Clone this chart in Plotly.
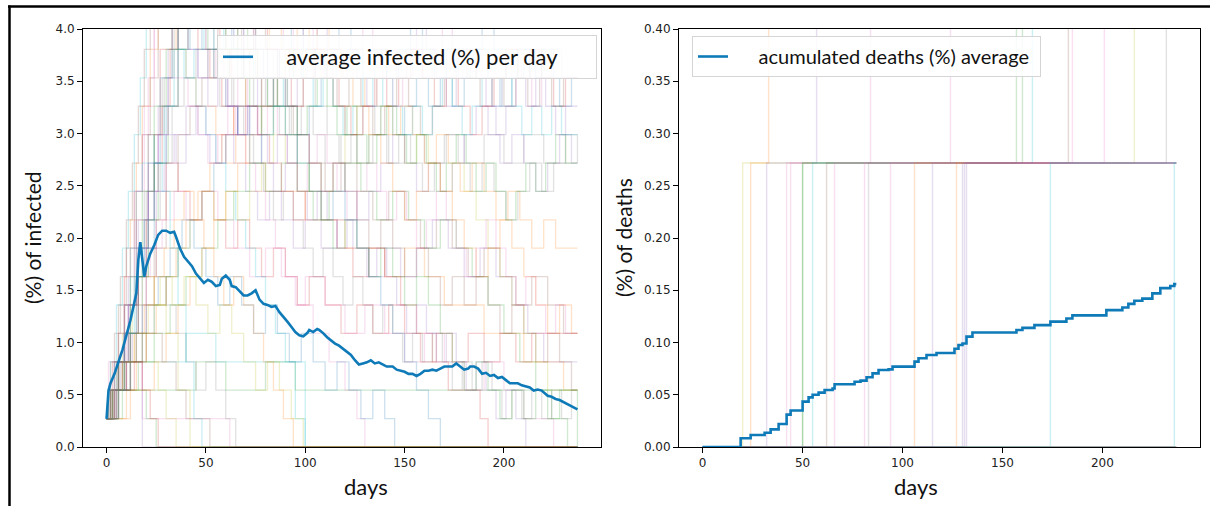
import plotly.graph_objects as go

# ---------------- data ----------------
POP = 368  # simulated population: 1 person = 0.2717 %

# average infected (%) per day
avg_inf_days = [0, 1, 2, 4, 8, 12, 15, 16, 17, 19,
                20, 22, 24, 26, 28, 30, 32, 34, 35, 37,
                39, 41, 43, 45, 47, 49, 51, 53, 55, 57,
                58, 60, 62, 63, 65, 67, 69, 71, 73, 75,
                77, 79, 81, 83, 85, 87, 89, 91, 93, 95,
                97, 99, 101, 102, 104, 106, 107, 109, 111, 113,
                115, 117, 119, 121, 123, 125, 127, 129, 131, 133,
                135, 137, 139, 141, 142, 144, 146, 148, 150, 152,
                154, 156, 158, 160, 162, 164, 166, 168, 170, 172,
                174, 176, 178, 180, 182, 183, 185, 187, 189, 191,
                193, 195, 197, 199, 201, 203, 205, 207, 209, 211,
                213, 215, 217, 219, 221, 222, 224, 226, 228, 230,
                232, 234, 236, 237]
avg_inf_vals = [0.27, 0.54, 0.61, 0.70, 0.93, 1.21, 1.47, 1.79, 1.96, 1.63,
                1.73, 1.85, 1.93, 2.03, 2.07, 2.07, 2.05, 2.06, 2.01, 1.90,
                1.82, 1.77, 1.73, 1.66, 1.61, 1.57, 1.60, 1.58, 1.54, 1.55,
                1.61, 1.64, 1.60, 1.54, 1.53, 1.49, 1.45, 1.45, 1.47, 1.50,
                1.41, 1.37, 1.36, 1.34, 1.35, 1.29, 1.25, 1.20, 1.15, 1.10,
                1.07, 1.06, 1.09, 1.12, 1.10, 1.13, 1.12, 1.09, 1.05, 1.02,
                0.99, 0.97, 0.94, 0.91, 0.88, 0.83, 0.79, 0.80, 0.81, 0.83,
                0.80, 0.81, 0.79, 0.77, 0.77, 0.77, 0.74, 0.73, 0.72, 0.70,
                0.70, 0.68, 0.70, 0.73, 0.73, 0.74, 0.73, 0.75, 0.77, 0.77,
                0.77, 0.80, 0.77, 0.74, 0.75, 0.77, 0.77, 0.75, 0.70, 0.71,
                0.68, 0.69, 0.66, 0.67, 0.64, 0.61, 0.61, 0.61, 0.59, 0.58,
                0.57, 0.54, 0.55, 0.54, 0.51, 0.49, 0.48, 0.46, 0.45, 0.43,
                0.41, 0.39, 0.37, 0.36]

# accumulated deaths (%) average (step changes)
avg_death_days = [0, 19, 24, 31, 34, 38, 42, 44, 50, 53,
                  55, 58, 61, 65, 66, 76, 79, 82, 85, 88,
                  93, 95, 106, 108, 112, 117, 126, 128, 130, 132,
                  135, 157, 160, 166, 174, 182, 185, 202, 210, 213,
                  216, 220, 225, 229, 234, 236, 237]
avg_death_vals = [0, 0.0084, 0.0115, 0.0137, 0.0169, 0.022, 0.031, 0.035, 0.0434, 0.0475,
                  0.050, 0.052, 0.0545, 0.056, 0.060, 0.0625, 0.0635, 0.0667, 0.0705, 0.0737,
                  0.0743, 0.0769, 0.0817, 0.085, 0.088, 0.090, 0.094, 0.0976, 0.099, 0.1056,
                  0.1096, 0.112, 0.114, 0.1166, 0.120, 0.123, 0.126, 0.131, 0.1335, 0.137,
                  0.140, 0.142, 0.147, 0.152, 0.154, 0.156, 0.156]

# day grids at which some runs change
grid_a = [0, 6, 12, 18, 24, 30, 36, 42, 48, 54, 60, 66, 72, 78, 84, 90, 96, 102, 108, 114,
          120, 126, 132, 138, 144, 150, 156, 162, 168, 174, 180, 186, 192, 198, 204, 210,
          216, 222, 228, 234, 237]
grid_c = [0, 3, 9, 15, 21, 27, 33, 39, 45, 51, 57, 63, 69, 75, 81, 87, 93, 99, 105, 111,
          117, 123, 129, 135, 141, 147, 153, 159, 165, 171, 177, 183, 189, 195, 201, 207,
          213, 219, 225, 231, 237]
grid_f = [0, 1, 6, 11, 16, 21, 26, 31, 36, 41, 46, 51, 56, 61, 66, 71, 76, 81, 86, 91,
          96, 101, 106, 111, 116, 121, 126, 131, 136, 141, 146, 151, 156, 161, 166, 171,
          176, 181, 186, 191, 196, 201, 206, 211, 216, 221, 226, 231, 236, 237]
grid_g = [0, 4, 9, 14, 19, 24, 29, 34, 39, 44, 49, 54, 59, 64, 69, 74, 79, 84, 89, 94,
          99, 104, 109, 114, 119, 124, 129, 134, 139, 144, 149, 154, 159, 164, 169, 174,
          179, 184, 189, 194, 199, 204, 209, 214, 219, 224, 229, 234, 237]

# individual simulation runs: infected persons (step changes)
run_days = [
    [0, 1, 18, 62, 237],
    [0, 2, 5, 9, 13, 18, 237],
    [0, 1, 30, 45, 60, 80, 95, 237],
    [0, 4, 12, 40, 55, 70, 95, 100, 237],
    [0, 3, 6, 9, 12, 15, 18, 22, 26, 30, 35, 40, 45, 50, 55, 60, 65, 70, 80, 90, 100, 110, 120, 130, 140, 150, 160, 170, 180, 190, 200, 210, 220, 230, 237],
    [0, 4, 8, 12, 16, 20, 24, 28, 33, 38, 44, 50, 56, 62, 68, 74, 80, 86, 92, 98, 104, 110, 118, 126, 134, 142, 150, 160, 170, 180, 190, 200, 210, 220, 230, 237],
    [0, 5, 10, 15, 20, 25, 30, 36, 42, 48, 54, 60, 66, 72, 78, 84, 90, 96, 102, 110, 118, 126, 134, 142, 150, 158, 166, 174, 182, 190, 198, 206, 214, 222, 230, 237],
    [0, 3, 8, 14, 20, 26, 30, 35, 237],
    [0, 2, 6, 10, 14, 18, 22, 26, 32, 38, 44, 50, 56, 62, 70, 78, 86, 94, 102, 110, 118, 126, 134, 142, 150, 158, 166, 174, 182, 190, 198, 206, 214, 222, 230, 237],
    grid_a,
    [0, 4, 10, 16, 22, 28, 34, 40, 48, 56, 64, 72, 80, 88, 96, 104, 112, 120, 126, 130, 237],
    [0, 3, 7, 11, 15, 19, 24, 29, 34, 40, 46, 52, 58, 64, 70, 76, 82, 88, 94, 100, 108, 116, 124, 132, 140, 148, 156, 164, 172, 180, 188, 196, 204, 212, 220, 228, 237],
    [0, 8, 16, 24, 32, 40, 48, 56, 64, 72, 80, 88, 96, 104, 112, 120, 128, 136, 144, 152, 160, 168, 176, 184, 192, 200, 208, 216, 224, 232, 237],
    [0, 2, 5, 8, 11, 14, 17, 20, 24, 28, 32, 36, 40, 45, 50, 55, 60, 65, 70, 75, 80, 85, 90, 95, 100, 237],
    [0, 5, 10, 15, 20, 25, 30, 35, 40, 46, 52, 58, 64, 70, 76, 82, 88, 94, 100, 106, 112, 118, 124, 130, 136, 142, 148, 154, 160, 166, 172, 178, 184, 190, 196, 202, 208, 214, 220, 226, 232, 237],
    [0, 3, 6, 9, 12, 16, 20, 25, 30, 35, 40, 45, 50, 55, 60, 65, 237],
    [0, 4, 8, 12, 16, 20, 24, 28, 32, 36, 40, 46, 52, 58, 64, 70, 76, 82, 88, 94, 100, 108, 116, 124, 132, 140, 148, 156, 164, 172, 180, 188, 192, 237],
    grid_a,
    [0, 2, 4, 7, 10, 13, 16, 19, 22, 26, 30, 35, 40, 45, 50, 56, 62, 68, 74, 80, 86, 92, 98, 104, 110, 116, 122, 128, 134, 140, 146, 152, 158, 164, 170, 176, 182, 188, 194, 200, 206, 212, 218, 224, 230, 237],
    [0, 5, 10, 15, 20, 26, 32, 38, 44, 50, 56, 62, 68, 74, 80, 86, 92, 98, 104, 110, 116, 122, 128, 134, 140, 145, 237],
    [0, 3, 6, 9, 12, 15, 18, 21, 24, 27, 30, 34, 38, 42, 46, 50, 55, 60, 65, 70, 75, 80, 85, 90, 95, 100, 110, 120, 130, 140, 150, 160, 170, 180, 190, 200, 210, 220, 225, 237],
    [0, 4, 8, 12, 16, 20, 25, 30, 35, 40, 45, 50, 55, 60, 66, 72, 78, 84, 90, 96, 102, 108, 114, 120, 126, 132, 138, 144, 150, 156, 162, 168, 174, 180, 186, 192, 198, 204, 210, 216, 222, 228, 234, 237],
    [0, 2, 5, 9, 14, 20, 25, 237],
    [0, 3, 6, 9, 12, 15, 18, 21, 24, 28, 32, 36, 40, 44, 48, 237],
    grid_a,
    grid_c,
    grid_c,
    [0, 3, 9, 15, 21, 27, 33, 39, 45, 51, 57, 63, 69, 75, 81, 87, 93, 99, 237],
    grid_a,
    grid_a,
    grid_f,
    grid_f,
    grid_f,
    grid_g,
    [0, 4, 9, 14, 19, 24, 29, 34, 39, 44, 49, 54, 59, 64, 69, 74, 79, 84, 89, 94, 237],
    grid_g,
    [0, 2, 6, 10, 14, 18, 22, 26, 237],
    [0, 3, 8, 13, 18, 24, 30, 36, 42, 237],
    [0, 5, 12, 20, 28, 35, 40, 52, 237],
    grid_c,
    grid_g,
    grid_f,
    grid_a,
]
run_counts = [
    [1, 3, 1, 0, 0],
    [1, 2, 3, 4, 3, 0, 0],
    [1, 2, 2, 3, 2, 3, 2, 0],
    [1, 3, 3, 4, 3, 3, 3, 0, 0],
    [1, 2, 4, 6, 8, 10, 12, 14, 16, 15, 14, 13, 12, 12, 11, 10, 11, 10, 9, 9, 8, 8, 7, 7, 6, 7, 6, 5, 5, 4, 4, 3, 3, 2, 2],
    [1, 2, 3, 5, 7, 9, 11, 13, 15, 16, 15, 14, 13, 14, 13, 12, 13, 12, 11, 12, 11, 10, 11, 10, 11, 10, 11, 10, 11, 10, 11, 10, 11, 10, 10, 10],
    [1, 2, 3, 4, 6, 8, 10, 9, 8, 9, 8, 7, 8, 7, 6, 7, 6, 5, 6, 5, 4, 5, 4, 5, 4, 3, 4, 3, 4, 3, 4, 3, 4, 4, 4, 4],
    [1, 2, 3, 4, 3, 2, 1, 0, 0],
    [1, 3, 5, 7, 9, 11, 13, 15, 17, 16, 15, 16, 14, 13, 12, 13, 12, 11, 10, 9, 10, 9, 8, 9, 8, 7, 8, 7, 6, 7, 6, 5, 6, 5, 4, 4],
    [1, 2, 3, 4, 5, 6, 7, 8, 9, 10, 11, 12, 11, 12, 13, 12, 11, 12, 13, 12, 11, 10, 11, 12, 11, 12, 13, 12, 13, 12, 13, 14, 13, 12, 13, 14, 13, 13, 12, 13, 13],
    [1, 2, 4, 6, 7, 8, 9, 8, 9, 8, 7, 6, 7, 6, 5, 4, 3, 2, 1, 0, 0],
    [1, 2, 3, 5, 6, 8, 9, 10, 11, 12, 11, 10, 11, 10, 9, 8, 9, 8, 7, 8, 7, 8, 7, 6, 7, 6, 7, 8, 7, 6, 7, 6, 5, 4, 3, 3, 3],
    [1, 2, 3, 4, 5, 6, 7, 8, 9, 10, 9, 10, 9, 8, 9, 10, 9, 8, 9, 8, 7, 8, 7, 6, 5, 4, 3, 2, 1, 0, 0],
    [1, 3, 5, 7, 9, 11, 13, 15, 17, 16, 15, 14, 13, 12, 11, 10, 9, 8, 7, 6, 5, 4, 3, 1, 0, 0],
    [1, 1, 2, 3, 4, 5, 6, 7, 8, 9, 10, 11, 12, 13, 14, 15, 14, 13, 14, 15, 14, 13, 12, 13, 12, 11, 12, 11, 10, 11, 10, 9, 10, 9, 8, 9, 8, 7, 8, 7, 7, 7],
    [1, 2, 3, 4, 5, 6, 7, 6, 5, 4, 3, 2, 3, 2, 1, 0, 0],
    [1, 2, 3, 4, 6, 8, 10, 12, 14, 16, 15, 14, 13, 12, 11, 12, 11, 10, 9, 8, 9, 8, 7, 6, 7, 6, 5, 4, 3, 2, 2, 1, 0, 0],
    [1, 2, 3, 4, 5, 6, 7, 8, 9, 8, 9, 8, 9, 10, 11, 10, 9, 10, 9, 10, 11, 10, 11, 12, 11, 10, 11, 10, 9, 10, 9, 8, 7, 6, 5, 4, 3, 2, 2, 2, 2],
    [1, 2, 4, 6, 8, 10, 12, 14, 16, 18, 17, 16, 17, 16, 15, 16, 15, 14, 15, 14, 13, 14, 13, 14, 13, 12, 13, 12, 11, 12, 13, 12, 11, 12, 13, 14, 13, 12, 13, 12, 13, 12, 13, 12, 13, 13],
    [1, 2, 3, 4, 5, 6, 7, 8, 7, 6, 5, 6, 5, 4, 5, 4, 3, 4, 3, 2, 3, 2, 1, 2, 1, 0, 0],
    [1, 2, 3, 5, 7, 9, 11, 13, 15, 17, 19, 18, 17, 16, 15, 14, 13, 12, 11, 10, 9, 8, 7, 6, 5, 6, 5, 4, 5, 4, 3, 4, 3, 2, 3, 2, 1, 1, 0, 0],
    [1, 2, 3, 4, 5, 7, 9, 11, 10, 11, 12, 11, 10, 11, 12, 11, 10, 9, 10, 11, 10, 9, 10, 9, 8, 9, 10, 11, 10, 9, 10, 9, 10, 11, 12, 11, 10, 11, 10, 9, 10, 11, 10, 10],
    [1, 2, 3, 2, 2, 1, 0, 0],
    [1, 2, 3, 5, 7, 9, 10, 11, 10, 9, 7, 5, 3, 1, 0, 0],
    [1, 1, 2, 2, 3, 4, 5, 6, 7, 8, 9, 10, 11, 12, 13, 14, 15, 14, 13, 12, 11, 12, 11, 10, 9, 8, 9, 10, 9, 8, 7, 6, 7, 8, 7, 6, 5, 4, 5, 4, 4],
    [1, 2, 4, 6, 8, 10, 12, 13, 14, 13, 12, 13, 14, 13, 12, 11, 12, 13, 12, 11, 10, 11, 12, 11, 10, 11, 10, 9, 10, 11, 10, 9, 10, 9, 8, 9, 10, 9, 10, 11, 10],
    [1, 3, 5, 8, 11, 14, 16, 17, 16, 15, 14, 13, 14, 15, 14, 13, 12, 13, 14, 13, 12, 11, 12, 13, 12, 13, 14, 13, 12, 13, 12, 11, 12, 13, 14, 13, 14, 13, 12, 13, 13],
    [1, 2, 3, 4, 5, 6, 5, 6, 5, 4, 5, 4, 3, 2, 3, 2, 1, 0, 0],
    [1, 2, 3, 5, 7, 9, 11, 12, 13, 14, 15, 14, 13, 12, 13, 12, 11, 10, 9, 10, 9, 8, 7, 8, 7, 6, 7, 6, 5, 6, 5, 6, 5, 4, 5, 4, 3, 4, 3, 2, 2],
    [1, 2, 4, 7, 10, 12, 14, 15, 14, 13, 12, 11, 10, 11, 12, 11, 10, 9, 8, 9, 8, 7, 6, 5, 4, 3, 2, 1, 0, 0, 0, 0, 0, 0, 0, 0, 0, 0, 0, 0, 0],
    [1, 1, 3, 5, 7, 9, 11, 12, 13, 12, 11, 10, 11, 12, 13, 12, 11, 12, 11, 10, 9, 10, 11, 10, 9, 8, 9, 10, 9, 8, 9, 8, 7, 8, 9, 8, 7, 6, 7, 8, 7, 6, 5, 6, 5, 4, 5, 4, 4, 4],
    [1, 2, 4, 6, 8, 10, 12, 14, 15, 14, 13, 14, 13, 12, 11, 12, 11, 10, 11, 10, 9, 8, 9, 8, 7, 8, 7, 6, 7, 6, 5, 4, 5, 4, 3, 4, 3, 2, 3, 2, 1, 2, 1, 0, 0, 0, 0, 0, 0, 0],
    [1, 2, 3, 4, 6, 8, 10, 12, 14, 16, 15, 14, 13, 14, 15, 14, 13, 12, 13, 12, 11, 12, 13, 12, 11, 12, 11, 10, 11, 12, 11, 10, 11, 10, 9, 10, 11, 10, 9, 10, 9, 8, 9, 10, 9, 10, 11, 10, 10, 10],
    [1, 2, 4, 6, 8, 10, 12, 14, 13, 14, 15, 14, 15, 14, 13, 14, 13, 12, 13, 14, 13, 12, 13, 12, 11, 12, 13, 12, 13, 12, 11, 12, 11, 12, 13, 12, 11, 12, 13, 12, 13, 12, 11, 12, 11, 12, 11, 11, 11],
    [1, 2, 3, 4, 5, 6, 7, 8, 9, 8, 7, 6, 5, 6, 5, 4, 3, 2, 1, 0, 0],
    [1, 3, 5, 7, 9, 11, 13, 15, 17, 16, 15, 14, 13, 12, 11, 10, 9, 8, 9, 8, 7, 6, 7, 6, 5, 6, 5, 4, 5, 4, 3, 4, 3, 4, 3, 2, 3, 2, 3, 2, 1, 2, 1, 2, 1, 2, 1, 2, 2],
    [1, 2, 3, 2, 3, 2, 1, 0, 0],
    [1, 2, 4, 5, 6, 5, 4, 2, 0, 0],
    [1, 2, 3, 4, 3, 2, 1, 0, 0],
    [1, 2, 4, 7, 10, 13, 15, 16, 15, 16, 15, 14, 15, 14, 13, 14, 15, 14, 13, 14, 15, 14, 13, 14, 13, 14, 15, 14, 13, 14, 13, 14, 15, 14, 13, 14, 13, 14, 13, 13, 13],
    [1, 3, 6, 9, 12, 15, 17, 18, 17, 16, 15, 16, 15, 14, 15, 14, 13, 14, 15, 14, 15, 14, 13, 14, 13, 14, 15, 14, 13, 12, 13, 14, 13, 14, 15, 14, 13, 14, 13, 12, 13, 14, 13, 12, 13, 14, 13, 13, 13],
    [1, 2, 3, 5, 7, 9, 11, 13, 15, 14, 13, 12, 13, 12, 11, 12, 13, 14, 13, 12, 13, 14, 15, 14, 13, 14, 13, 12, 13, 14, 13, 14, 15, 14, 13, 12, 13, 14, 13, 12, 11, 12, 13, 12, 13, 12, 11, 12, 12, 12],
    [1, 3, 6, 9, 12, 14, 16, 17, 16, 15, 14, 13, 12, 11, 12, 11, 10, 9, 8, 7, 8, 7, 6, 7, 6, 5, 6, 5, 4, 3, 2, 3, 2, 1, 2, 1, 2, 1, 2, 2, 2],
]

# individual simulation runs: day of 1st and 2nd death (None = no death)
death_first = [20, 24, 32, 42, 44, 50, 50, 55, 62, 66, 81, 83, 94, 106, 115, 127, 130, 131, 132, 174, 236,
               None, None, None, None, None]
death_second = [216, 33, 57, 84, 124, 157, 160, 165, 183, 185, 201, 232, None, None, None, None, None, None, None, None, None,
                None, None, None, None, None]
LAST_DAY = 237

x_ticks = [0, 50, 100, 150, 200]

# ---------------- styles ----------------
palette = ['#e377c2', '#9467bd', '#2ca02c', '#17becf', '#ff7f0e',
           '#7f7f7f', '#d62728', '#bcbd22', '#8c564b', '#1f77b4']
death_colors = ['#bcbd22', '#ff7f0e', '#9467bd', '#e377c2', '#e377c2', '#2ca02c', '#2ca02c',
                '#17becf', '#8c564b', '#e377c2', '#e377c2', '#7f7f7f', '#e377c2', '#ff7f0e',
                '#9467bd', '#ff7f0e', '#9467bd', '#9467bd', '#9467bd', '#17becf', '#17becf',
                '#7f7f7f', '#7f7f7f', '#7f7f7f', '#7f7f7f', '#7f7f7f']
AVG_COLOR = '#0f7ab8'
W, H = 1210, 506
NB = '\u00a0'

fig = go.Figure()

# background runs - infected
for i, (d, c) in enumerate(zip(run_days, run_counts)):
    fig.add_trace(go.Scatter(
        x=d, y=[k * 100 / POP for k in c], mode='lines',
        line=dict(color=palette[i % len(palette)], width=1.3, shape='hv'),
        opacity=0.22, showlegend=False, hoverinfo='skip', xaxis='x', yaxis='y'))

fig.add_trace(go.Scatter(
    x=avg_inf_days, y=avg_inf_vals, mode='lines',
    line=dict(color=AVG_COLOR, width=2.6),
    name=NB * 5 + 'average infected (%) per day' + NB * 6, legend='legend',
    xaxis='x', yaxis='y'))

# background runs - deaths
for i, (f, s) in enumerate(zip(death_first, death_second)):
    if f is None:
        xs, ys = [0, LAST_DAY], [0, 0]
    elif s is None:
        xs, ys = [0, f, LAST_DAY], [0, 1, 1]
    else:
        xs, ys = [0, f, s, LAST_DAY], [0, 1, 2, 2]
    fig.add_trace(go.Scatter(
        x=xs, y=[k * 100 / POP for k in ys], mode='lines',
        line=dict(color=death_colors[i], width=1.4, shape='hv'),
        opacity=0.22, showlegend=False, hoverinfo='skip', xaxis='x2', yaxis='y2'))

fig.add_trace(go.Scatter(
    x=avg_death_days, y=avg_death_vals, mode='lines',
    line=dict(color=AVG_COLOR, width=2.6, shape='hv'),
    name=NB * 5 + 'acumulated deaths (%) average' + NB, legend='legend2',
    xaxis='x2', yaxis='y2'))

tick_font = dict(family='DejaVu Sans', size=12, color='#222')
common_x = dict(range=[-11.85, 248.85], tickvals=x_ticks, ticks='outside', ticklen=5,
                tickcolor='black', showline=True, mirror=True, linecolor='black',
                linewidth=1, showgrid=False, zeroline=False, tickfont=tick_font,
                automargin=False)
common_y = dict(ticks='outside', ticklen=5, tickcolor='black', showline=True, mirror=True,
                linecolor='black', linewidth=1, showgrid=False, zeroline=False,
                tickfont=tick_font, automargin=False)

y_dom = [1 - 447 / H, 1 - 29 / H]
fig.update_layout(
    width=W, height=H,
    margin=dict(l=0, r=0, t=0, b=0, autoexpand=False),
    paper_bgcolor='white', plot_bgcolor='white',
    xaxis=dict(domain=[83 / W, 601 / W], anchor='y', **common_x),
    yaxis=dict(domain=y_dom, anchor='x', range=[0, 4], dtick=0.5, tickformat='.1f', **common_y),
    xaxis2=dict(domain=[679 / W, 1200 / W], anchor='y2', **common_x),
    yaxis2=dict(domain=y_dom, anchor='x2', range=[0, 0.4], dtick=0.05, tickformat='.2f', **common_y),
    legend=dict(x=217 / W, y=1 - 35 / H, xanchor='left', yanchor='top',
                bgcolor='rgba(255,255,255,0.85)', bordercolor='#d5d5d5', borderwidth=1,
                font=dict(family='Lato', size=22, color='#111')),
    legend2=dict(x=692 / W, y=1 - 36 / H, xanchor='left', yanchor='top',
                 bgcolor='rgba(255,255,255,0.85)', bordercolor='#d5d5d5', borderwidth=1,
                 font=dict(family='Lato', size=20, color='#111')),
    annotations=[
        dict(text='days', x=342 / W, y=1 - 486 / H, xref='paper', yref='paper',
             yanchor='middle', showarrow=False, font=dict(family='Lato', size=22, color='#111')),
        dict(text='days', x=940 / W, y=1 - 486 / H, xref='paper', yref='paper',
             yanchor='middle', showarrow=False, font=dict(family='Lato', size=22, color='#111')),
        dict(text='(%) of infected', x=33 / W, y=1 - 238 / H, xref='paper', yref='paper',
             xanchor='center', yanchor='middle', textangle=-90, showarrow=False,
             font=dict(family='Lato', size=21, color='#111')),
        dict(text='(%) of deaths', x=624 / W, y=1 - 238 / H, xref='paper', yref='paper',
             xanchor='center', yanchor='middle', textangle=-90, showarrow=False,
             font=dict(family='Lato', size=21, color='#111')),
    ],
    shapes=[
        dict(type='line', xref='paper', yref='paper', x0=8 / W, x1=1, y0=1 - 6.5 / H, y1=1 - 6.5 / H,
             line=dict(color='black', width=2.5)),
        dict(type='line', xref='paper', yref='paper', x0=9.5 / W, x1=9.5 / W, y0=0, y1=1 - 5.5 / H,
             line=dict(color='black', width=2.5)),
    ],
)

fig.write_html('out.html', config={'displayModeBar': False},
               post_script="document.body.style.margin='0';document.body.style.overflow='hidden';")
